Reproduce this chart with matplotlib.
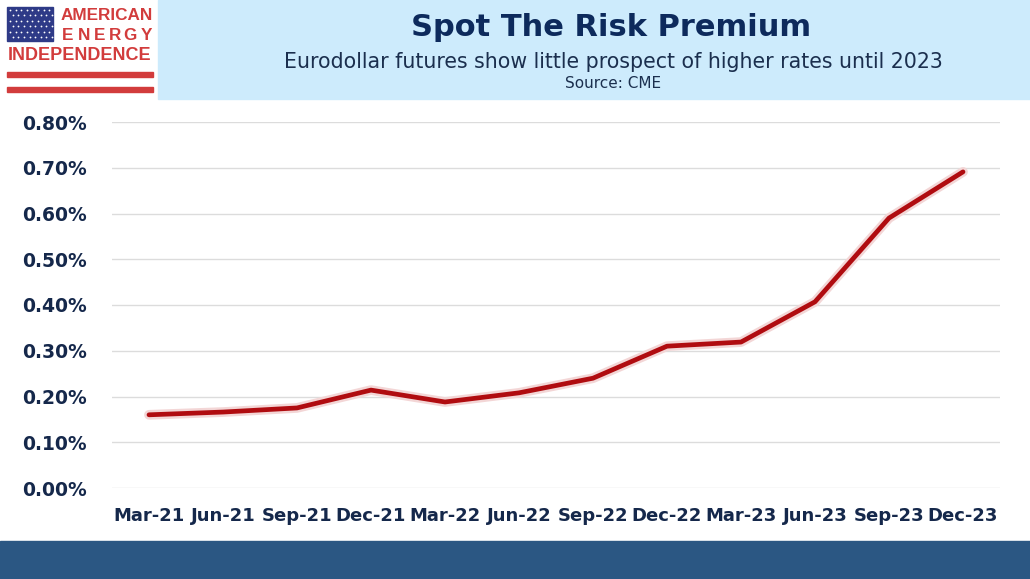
import matplotlib.pyplot as plt
from matplotlib.patches import Rectangle
from matplotlib.ticker import FuncFormatter

# ---------- data ----------
contracts = ["Mar-21", "Jun-21", "Sep-21", "Dec-21", "Mar-22", "Jun-22",
             "Sep-22", "Dec-22", "Mar-23", "Jun-23", "Sep-23", "Dec-23"]
implied_rate = [0.160, 0.166, 0.175, 0.214, 0.188, 0.208,
                0.240, 0.310, 0.319, 0.407, 0.590, 0.691]
y_ticks = [0.0, 0.1, 0.2, 0.3, 0.4, 0.5, 0.6, 0.7, 0.8]

NAVY = "#15284b"
RED = "#b00c10"
LOGO_RED = "#d23c3c"
W, H = 1030, 579

fig = plt.figure(figsize=(W / 100, H / 100), dpi=100)
fig.patch.set_facecolor("white")

# ---------- header / footer ----------
bg = fig.add_axes([0, 0, 1, 1])
bg.set_xlim(0, W)
bg.set_ylim(H, 0)
bg.axis("off")
bg.add_patch(Rectangle((158, 0), W - 158, 99, color="#cdebfc", zorder=0))
bg.add_patch(Rectangle((0, 541), W, H - 541, color="#2b5783", zorder=0))

# logo
bg.add_patch(Rectangle((7, 7), 46, 34, color="#2e3a87"))
for r in range(6):
    for c in range(8):
        bg.plot(10 + c * 5.6 + (r % 2) * 2.8, 10 + r * 5.4, "o",
                ms=1.3, color="white", mec="none")
bg.add_patch(Rectangle((7, 72), 146, 5, color=LOGO_RED))
bg.add_patch(Rectangle((7, 87), 146, 5, color=LOGO_RED))
logo_font = dict(color=LOGO_RED, fontfamily="Liberation Sans",
                 fontweight="bold", va="center")
bg.text(153, 16, "AMERICAN", ha="right", fontsize=12.3, **logo_font)
for i, ch in enumerate("ENERGY"):
    bg.text(68 + i * 15.6, 35, ch, ha="center", fontsize=12.3, **logo_font)
bg.text(80, 56, "INDEPENDENCE", ha="center", fontsize=13, **logo_font)

bg.text(611, 27, "Spot The Risk Premium", ha="center", va="center",
        fontsize=22, fontweight="bold", color="#0d2a5c")
bg.text(613, 62, "Eurodollar futures show little prospect of higher rates until 2023",
        ha="center", va="center", fontsize=14.8, color="#1b2f4e")
bg.text(613, 84, "Source: CME", ha="center", va="center",
        fontsize=11, color="#1b2f4e")

# ---------- chart ----------
ax = fig.add_axes([112 / W, 1 - 488 / H, 888 / W, (488 - 122) / H])
x = list(range(len(contracts)))
ax.plot(x, implied_rate, color="#f3d6d6", lw=7, solid_capstyle="round", zorder=2)
ax.plot(x, implied_rate, color=RED, lw=3.4, solid_capstyle="round", zorder=3)

ax.set_xlim(-0.5, len(contracts) - 0.5)
ax.set_ylim(0, 0.8)
ax.set_yticks(y_ticks)
ax.yaxis.set_major_formatter(FuncFormatter(lambda v, p: f"{v:.2f}%"))
ax.set_xticks(x)
ax.set_xticklabels(contracts)
ax.grid(axis="y", color="#dcdcdc", lw=1)
ax.set_axisbelow(True)
for s in ax.spines.values():
    s.set_visible(False)
ax.tick_params(length=0)
ax.tick_params(axis="y", pad=18, labelsize=13.5, labelcolor=NAVY)
ax.tick_params(axis="x", pad=14, labelsize=13, labelcolor=NAVY)
for lab in ax.get_xticklabels() + ax.get_yticklabels():
    lab.set_fontweight("bold")

fig.savefig("out.png", dpi=100)
